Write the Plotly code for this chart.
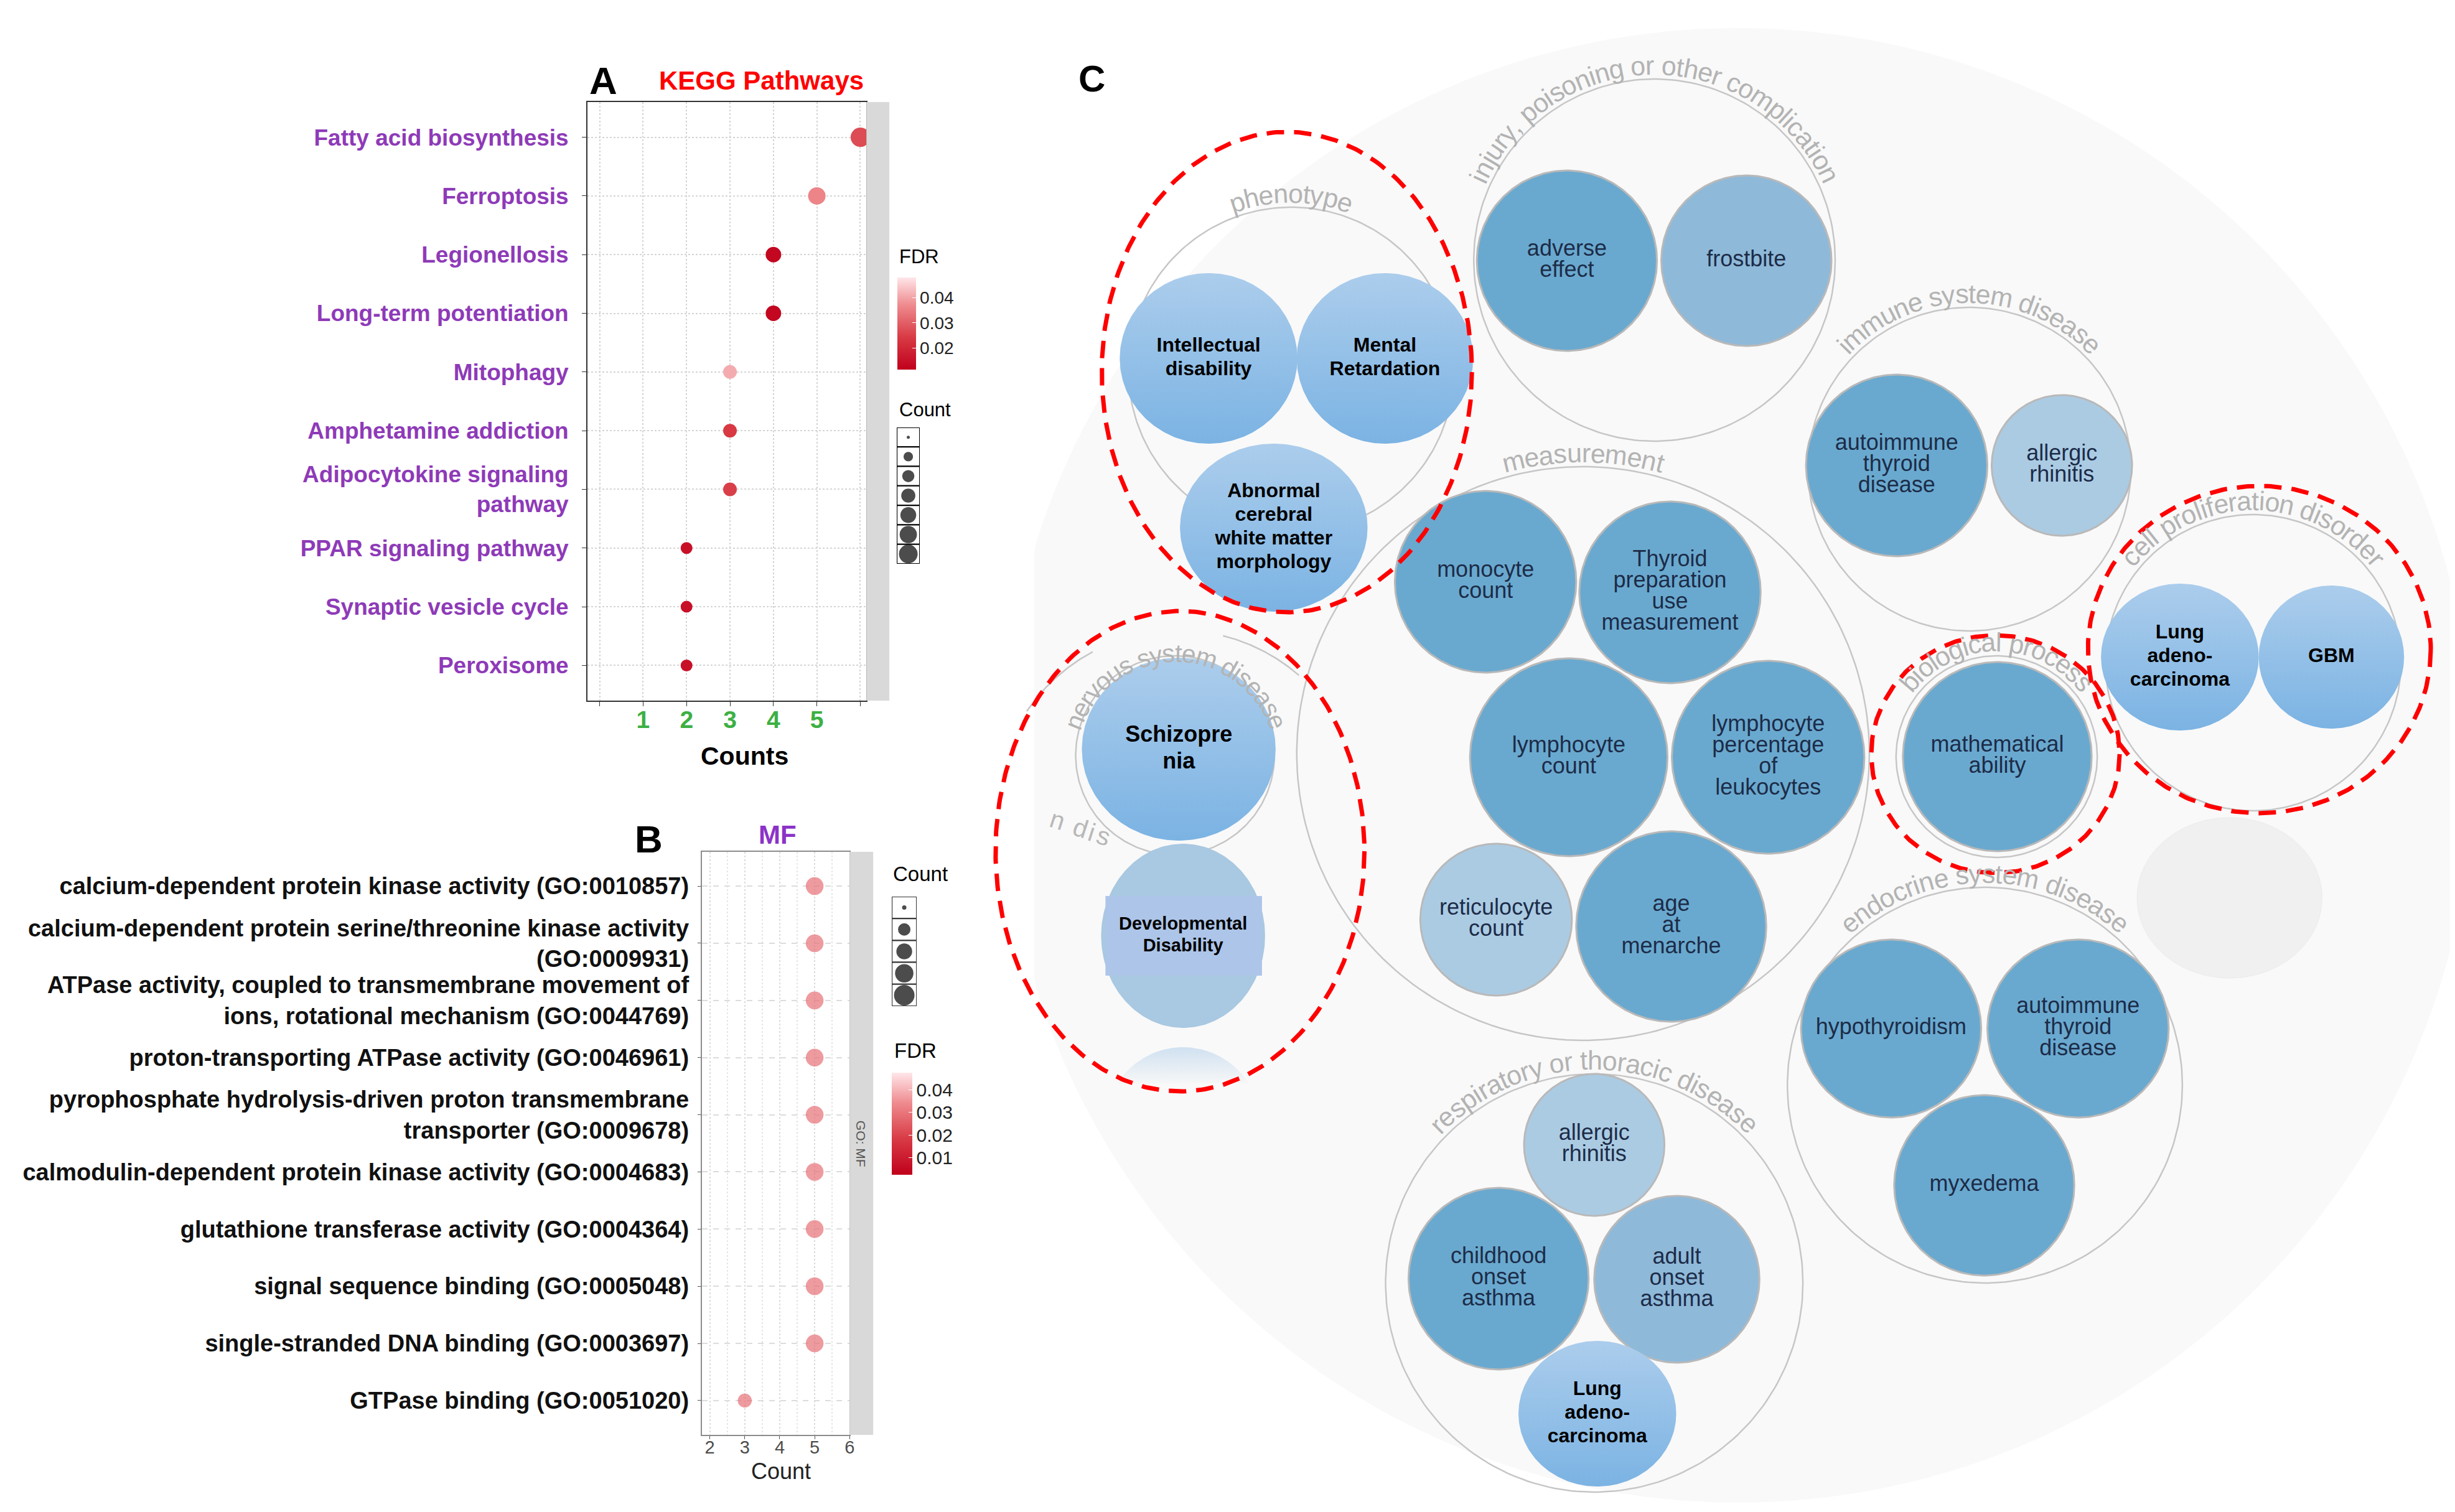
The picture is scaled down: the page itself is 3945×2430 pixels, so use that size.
import numpy as np
import plotly.graph_objects as go

W, H = 3945, 2430

# ---------------- Panel A data (KEGG) ----------------
kegg_terms = ["Fatty acid biosynthesis", "Ferroptosis", "Legionellosis",
              "Long-term potentiation", "Mitophagy", "Amphetamine addiction",
              "Adipocytokine signaling<br>pathway", "PPAR signaling pathway",
              "Synaptic vesicle cycle", "Peroxisome"]
kegg_count = [6, 5, 4, 4, 3, 3, 3, 2, 2, 2]
kegg_fdr = [0.027, 0.036, 0.013, 0.013, 0.041, 0.024, 0.025, 0.015, 0.015, 0.015]
a_xticks = [0, 1, 2, 3, 4, 5, 6]
a_xlabels = ["", "1", "2", "3", "4", "5", ""]
a_fdr_ticks = [0.02, 0.03, 0.04]
a_count_keys = [1, 2, 3, 4, 5, 6, 7]

# ---------------- Panel B data (GO MF) ----------------
mf_terms = ["calcium-dependent protein kinase activity (GO:0010857)",
            "calcium-dependent protein serine/threonine kinase activity<br>(GO:0009931)",
            "ATPase activity, coupled to transmembrane movement of<br>ions, rotational mechanism (GO:0044769)",
            "proton-transporting ATPase activity (GO:0046961)",
            "pyrophosphate hydrolysis-driven proton transmembrane<br>transporter (GO:0009678)",
            "calmodulin-dependent protein kinase activity (GO:0004683)",
            "glutathione transferase activity (GO:0004364)",
            "signal sequence binding (GO:0005048)",
            "single-stranded DNA binding (GO:0003697)",
            "GTPase binding (GO:0051020)"]
mf_count = [5, 5, 5, 5, 5, 5, 5, 5, 5, 3]
mf_fdr = [0.029] * 10
b_xticks = [2, 3, 4, 5, 6]
b_fdr_ticks = [0.01, 0.02, 0.03, 0.04]
b_count_keys = [2, 3, 4, 5, 6]

# ---------------- Panel C data (disease / trait bubbles) ----------------
c_groups = ["phenotype", "injury, poisoning or other complication", "immune system disease",
            "measurement", "cell proliferation disorder", "biological process",
            "endocrine system disease", "respiratory or thoracic disease", "nervous system disease"]
c_terms = ["Intellectual\ndisability", "Mental\nRetardation", "Abnormal\ncerebral\nwhite matter\nmorphology",
           "adverse\neffect", "frostbite",
           "autoimmune\nthyroid\ndisease", "allergic\nrhinitis",
           "monocyte\ncount", "Thyroid\npreparation\nuse\nmeasurement", "lymphocyte\ncount",
           "lymphocyte\npercentage\nof\nleukocytes", "reticulocyte\ncount", "age\nat\nmenarche",
           "Lung\nadeno-\ncarcinoma", "GBM",
           "mathematical\nability",
           "hypothyroidism", "autoimmune\nthyroid\ndisease", "myxedema",
           "allergic\nrhinitis", "childhood\nonset\nasthma", "adult\nonset\nasthma", "Lung\nadeno-\ncarcinoma",
           "Schizopre\nnia", "Developmental\nDisability"]
c_term_group = [0, 0, 0, 1, 1, 2, 2, 3, 3, 3, 3, 3, 3, 4, 4, 5, 6, 6, 6, 7, 7, 7, 7, 8, 8]
c_term_shade = ["hl", "hl", "hl", "dark", "mid", "dark", "light", "dark", "dark", "dark",
                "dark", "light", "dark", "hl", "hl", "dark", "dark", "dark", "dark",
                "light", "dark", "mid", "hl", "hl", "hl2"]

# ---------------- layout geometry for panel C (pixel space) ----------------
group_geom = [(2071, 587, 262), (2656, 410, 291), (3163, 746, 260), (2541, 1203, 461),
              (3620, 1057, 238), (3207, 1208, 162), (3188, 1736, 318), (2559, 2054, 336),
              (1884, 1206, 160)]
term_geom = [(1938, 568, 143, 137), (2222, 568, 142, 137), (2043, 840, 151, 135),
             (2515, 411, 145, 145), (2804, 411, 137, 137),
             (3046, 740, 146, 146), (3312, 740, 113, 113),
             (2384, 927, 146, 146), (2681, 944, 146, 146), (2518, 1209, 159, 159),
             (2839, 1209, 155, 155), (2401, 1470, 122, 122), (2683, 1481, 153, 153),
             (3502, 1048, 127, 118), (3746, 1048, 117, 115),
             (3208, 1208, 152, 152),
             (3037, 1645, 145, 143), (3338, 1645, 146, 143), (3187, 1897, 145, 145),
             (2559, 1832, 113, 114), (2405, 2047, 145, 146), (2692, 2048, 133, 134),
             (2564, 2264, 127, 117),
             (1890, 1196, 156, 147), (1897, 1496, 132, 148)]
highlight_geom = [(2064, 590, 298, 386), (1892, 1360, 297, 386), (3205, 1204, 200, 191),
                  (3630, 1036, 276, 263)]

shade_fill = {"dark": "#6aa9cf", "mid": "#8fb9d9", "light": "#abcbe3"}

fig = go.Figure()


def px(x):
    return x / W


def py(y):
    return 1 - y / H


def ellipse(cx, cy, rx, ry, n=240):
    t = np.linspace(0, 2 * np.pi, n)
    return cx + rx * np.cos(t), cy + ry * np.sin(t)


def arc(cx, cy, r, a0, a1, n=60):
    t = np.radians(np.linspace(a0, a1, n))
    return cx + r * np.cos(t), cy - r * np.sin(t)


# ---------------- Panel A ----------------
fig.add_trace(go.Scatter(
    x=kegg_count, y=kegg_terms, mode="markers", xaxis="x", yaxis="y",
    marker=dict(size=[13 + 3 * c for c in kegg_count], color=kegg_fdr,
                coloraxis="coloraxis", line=dict(width=0), opacity=1),
    hoverinfo="skip"))

# ---------------- Panel B ----------------
fig.add_trace(go.Scatter(
    x=mf_count, y=mf_terms, mode="markers", xaxis="x2", yaxis="y2",
    marker=dict(size=[13.5 + 3 * c for c in mf_count], color=mf_fdr,
                coloraxis="coloraxis2", line=dict(width=0)),
    hoverinfo="skip"))

# ---------------- size legends ----------------
fig.add_trace(go.Scatter(
    x=[0.5] * len(a_count_keys), y=a_count_keys, mode="markers", xaxis="x4", yaxis="y4",
    marker=dict(size=[5 + 25 * np.sqrt((k - 1) / 6) for k in a_count_keys], color="black",
                line=dict(width=0)), hoverinfo="skip"))
fig.add_trace(go.Scatter(
    x=[1.3] * len(a_count_keys), y=a_count_keys, mode="text", xaxis="x4", yaxis="y4",
    text=[str(k) for k in a_count_keys], textposition="middle right", cliponaxis=False,
    textfont=dict(size=28, color="black", family="Liberation Sans"), hoverinfo="skip"))
fig.add_trace(go.Scatter(
    x=[0.5] * len(b_count_keys), y=b_count_keys, mode="markers", xaxis="x5", yaxis="y5",
    marker=dict(size=[7 + 26 * np.sqrt((k - 2) / 4) for k in b_count_keys], color="black",
                line=dict(width=0)), hoverinfo="skip"))
fig.add_trace(go.Scatter(
    x=[1.3] * len(b_count_keys), y=b_count_keys, mode="text", xaxis="x5", yaxis="y5",
    text=[str(k) for k in b_count_keys], textposition="middle right", cliponaxis=False,
    textfont=dict(size=30, color="black", family="Liberation Sans"), hoverinfo="skip"))

shapes = []
for k in a_count_keys:
    shapes.append(dict(type="rect", xref="x4", yref="y4", x0=0, x1=1, y0=k - 0.5, y1=k + 0.5,
                       line=dict(color="black", width=2), fillcolor="white", layer="below"))
for k in b_count_keys:
    shapes.append(dict(type="rect", xref="x5", yref="y5", x0=0, x1=1, y0=k - 0.5, y1=k + 0.5,
                       line=dict(color="#333", width=2), fillcolor="white", layer="below"))
# facet strips
shapes.append(dict(type="rect", xref="x3", yref="y3", x0=1387, x1=1424, y0=156, y1=1118,
                   line=dict(width=0), fillcolor="#d9d9d9", layer="below"))
shapes.append(dict(type="rect", xref="x3", yref="y3", x0=1360, x1=1398, y0=1361, y1=2298,
                   line=dict(width=0), fillcolor="#d9d9d9", layer="below"))

# ---------------- Panel C ----------------
C = dict(xaxis="x3", yaxis="y3", hoverinfo="skip")

bx, by = ellipse(2790, 1222, 1185, 1185, 400)
fig.add_trace(go.Scatter(x=np.clip(bx, 1657, W), y=np.clip(by, 0, H), mode="lines", fill="toself",
                         fillcolor="#f9f9f9", line=dict(width=0, color="rgba(0,0,0,0)"), **C))

# empty light circle
ex, ey = ellipse(3582, 1435, 149, 129)
fig.add_trace(go.Scatter(x=ex, y=ey, mode="lines", fill="toself", fillcolor="#f0f0f0",
                         line=dict(width=1, color="#ebebeb"), **C))

# group outlines
for gi, (cx, cy, r) in enumerate(group_geom):
    gx, gy = ellipse(cx, cy, r, r)
    fig.add_trace(go.Scatter(x=gx, y=gy, mode="lines", line=dict(color="#c6c6c6", width=2.5), **C))
# partial outer arcs of the nervous-system group
for a0, a1 in [(118, 146), (49, 76)]:
    axs, ays = arc(1890, 1300, 295, a0, a1)
    fig.add_trace(go.Scatter(x=axs, y=ays, mode="lines", line=dict(color="#c6c6c6", width=2.5), **C))

# faded cap below developmental disability
fx, fy = ellipse(1897, 1800, 125, 125, 300)
mask = fy <= 1735
fig.add_trace(go.Scatter(x=fx[mask], y=fy[mask], mode="lines", fill="toself",
                         fillgradient=dict(type="vertical", colorscale=[[0, "#f7f7f7"], [1, "#d0e1f1"]]),
                         line=dict(width=0, color="rgba(0,0,0,0)"), **C))

# term bubbles
for ti, (cx, cy, rx, ry) in enumerate(term_geom):
    sh = c_term_shade[ti]
    tx, ty = ellipse(cx, cy, rx, ry)
    if sh in shade_fill:
        fig.add_trace(go.Scatter(x=tx, y=ty, mode="lines", fill="toself", fillcolor=shade_fill[sh],
                                 line=dict(color="#b9b9b9", width=3), **C))
    elif sh == "hl":
        fig.add_trace(go.Scatter(x=tx, y=ty, mode="lines", fill="toself",
                                 fillgradient=dict(type="vertical",
                                                   colorscale=[[0, "#7bb3e3"], [1, "#accdec"]]),
                                 line=dict(width=0, color="rgba(0,0,0,0)"), **C))
    else:
        fig.add_trace(go.Scatter(x=tx, y=ty, mode="lines", fill="toself", fillcolor="#a9c8e1",
                                 line=dict(width=0, color="rgba(0,0,0,0)"), **C))
        rxs = [cx - 125, cx + 127, cx + 127, cx - 125, cx - 125]
        rys = [cy - 64, cy - 64, cy + 64, cy + 64, cy - 64]
        fig.add_trace(go.Scatter(x=rxs, y=rys, mode="lines", fill="toself", fillcolor="#adc5e8",
                                 line=dict(width=0, color="rgba(0,0,0,0)"), **C))

# term labels, one point per text line
for style in ["regular", "hl", "hl2", "schizo"]:
    xs, ys, ts = [], [], []
    for ti, (cx, cy, rx, ry) in enumerate(term_geom):
        sh = c_term_shade[ti]
        is_schizo = c_terms[ti].startswith("Schizo")
        st = "schizo" if is_schizo else ("regular" if sh in shade_fill else sh)
        if st != style:
            continue
        lh = {"regular": 34, "hl": 38, "hl2": 35, "schizo": 43}[st]
        lines = c_terms[ti].split("\n")
        n = len(lines)
        for li, line in enumerate(lines):
            xs.append(cx)
            ys.append(cy + (li - (n - 1) / 2) * lh)
            ts.append(line)
    if not xs:
        continue
    if style == "regular":
        f = dict(size=36, color="#1c2c48", family="Liberation Sans")
    elif style == "hl":
        f = dict(size=32, color="black", family="Liberation Sans", weight="bold")
    elif style == "hl2":
        f = dict(size=29, color="black", family="Liberation Sans", weight="bold")
    else:
        f = dict(size=36, color="black", family="Liberation Sans", weight="bold")
    fig.add_trace(go.Scatter(x=xs, y=ys, text=ts, mode="text", textposition="middle center",
                             textfont=f, cliponaxis=False, **C))

# red dashed highlight ellipses
for (cx, cy, rx, ry) in highlight_geom:
    hx, hy = ellipse(cx, cy, rx, ry, 360)
    fig.add_trace(go.Scatter(x=hx, y=hy, mode="lines",
                             line=dict(color="#ff0000", width=7, dash="28px,16px"), **C))

# ---------------- annotations ----------------
ann = []
CW = {'a': .556, 'b': .556, 'c': .5, 'd': .556, 'e': .556, 'f': .278, 'g': .556, 'h': .556,
      'i': .222, 'j': .222, 'k': .5, 'l': .222, 'm': .833, 'n': .556, 'o': .556, 'p': .556,
      'q': .556, 'r': .333, 's': .5, 't': .278, 'u': .556, 'v': .5, 'w': .722, 'x': .5,
      'y': .5, 'z': .5, ' ': .278, ',': .278}


def arc_label(text, cx, cy, R, size=43, color="#b3b3b3", center_deg=90):
    widths = [CW.get(ch, .556) * size for ch in text]
    L = sum(widths)
    th0 = np.radians(center_deg) + L / (2 * R)
    s = 0.0
    for ch, w in zip(text, widths):
        th = th0 - (s + w / 2) / R
        s += w
        if ch == " ":
            continue
        ann.append(dict(x=cx + R * np.cos(th), y=cy - R * np.sin(th), xref="x3", yref="y3",
                        text=ch, showarrow=False, textangle=float(np.degrees(np.pi / 2 - th)),
                        xanchor="center", yanchor="middle",
                        font=dict(size=size, color=color, family="Liberation Sans")))


for gi, name in enumerate(c_groups):
    cx, cy, r = group_geom[gi]
    if gi == 8:
        arc_label(name, 1885, 1218, 176, size=41)
    else:
        arc_label(name, cx, cy, r + 22)

# fragment of a hidden label
for i, ch in enumerate("n dis"):
    if ch == " ":
        continue
    ann.append(dict(x=1695 + i * 18.5, y=1310 + i * 6.5, xref="x3", yref="y3", text=ch,
                    showarrow=False, textangle=18, font=dict(size=41, color="#b8b8b8",
                                                            family="Liberation Sans")))


def label(x, y, text, size, color="black", bold=True, angle=0, xanchor="center"):
    ann.append(dict(x=px(x), y=py(y), xref="paper", yref="paper", text=text, showarrow=False,
                    textangle=angle, xanchor=xanchor, yanchor="middle",
                    font=dict(size=size, color=color, family="Liberation Sans",
                              weight="bold" if bold else "normal")))


label(963, 121, "A", 62)
label(1218, 121, "KEGG Pathways", 42, color="#ff0000")
label(1191, 1207, "Counts", 41)
label(1037, 1340, "B", 62)
label(1244, 1333, "MF", 42, color="#8c32c8")
label(1250, 2356, "Count", 36, bold=False, color="#222")
label(1379, 1830, "GO: MF", 21, color="#555", bold=False, angle=90)
label(1750, 118, "C", 60)
label(1438, 405, "FDR", 31, bold=False, xanchor="left")
label(1438, 650, "Count", 31, bold=False, xanchor="left")
label(1428, 1396, "Count", 33, bold=False, xanchor="left")
label(1430, 1680, "FDR", 33, bold=False, xanchor="left")

red_scale = [[0, "#c0001c"], [0.35, "#d83a44"], [0.7, "#ee8a8e"], [1, "#ffe6e9"]]

fig.update_layout(
    width=W, height=H, autosize=False, margin=dict(l=0, r=0, t=0, b=0, pad=0),
    paper_bgcolor="white", plot_bgcolor="rgba(0,0,0,0)", showlegend=False,
    shapes=shapes, annotations=ann,
    xaxis=dict(domain=[px(938), px(1387)], range=[-0.28, 6.14], tickmode="array",
               tickvals=a_xticks, ticktext=a_xlabels, anchor="y",
               tickfont=dict(size=39, color="#3cb043", family="Liberation Sans", weight="bold"),
               showgrid=True, gridcolor="#d5d5d5", griddash="dot", gridwidth=2, zeroline=False,
               showline=True, linecolor="#333", linewidth=2, mirror=True,
               ticks="outside", ticklen=7, tickcolor="#333", ticklabelstandoff=-12),
    yaxis=dict(domain=[py(1118), py(156)], type="category", categoryorder="array",
               categoryarray=kegg_terms, range=[9.6, -0.6], anchor="x",
               tickfont=dict(size=37, color="#8e3ab8", family="Liberation Sans", weight="bold"),
               showgrid=True, gridcolor="#d5d5d5", griddash="dot", gridwidth=2, zeroline=False,
               showline=True, linecolor="#333", linewidth=2, mirror=True,
               ticks="outside", ticklen=7, tickcolor="#333", ticklabelstandoff=14),
    xaxis2=dict(domain=[px(1122), px(1360)], range=[1.77, 6.0], tickmode="array",
                tickvals=b_xticks, anchor="y2",
                tickfont=dict(size=29, color="#4d4d4d", family="Liberation Sans"),
                showgrid=True, gridcolor="#dcdcdc", griddash="dot", gridwidth=2, zeroline=False,
                minor=dict(tickmode="array", tickvals=[2.5, 3.5, 4.5, 5.5], showgrid=True,
                           gridcolor="#e6e6e6", griddash="dot", gridwidth=2),
                showline=True, linecolor="#8c8c8c", linewidth=2, mirror=True,
                ticks="outside", ticklen=5, tickcolor="#555", ticklabelstandoff=-12),
    yaxis2=dict(domain=[py(2298), py(1361)], type="category", categoryorder="array",
                categoryarray=mf_terms, range=[9.6, -0.6], anchor="x2",
                tickfont=dict(size=38, color="#111", family="Liberation Sans", weight="bold"),
                showgrid=True, gridcolor="#dcdcdc", griddash="dash", gridwidth=2, zeroline=False,
                showline=True, linecolor="#8c8c8c", linewidth=2, mirror=True,
                ticks="outside", ticklen=5, tickcolor="#555", ticklabelstandoff=6),
    xaxis3=dict(domain=[0, 1], range=[0, W], visible=False, anchor="y3", fixedrange=True),
    yaxis3=dict(domain=[0, 1], range=[H, 0], visible=False, anchor="x3", fixedrange=True),
    xaxis4=dict(domain=[px(1436), px(1473)], range=[0, 1], visible=False, anchor="y4"),
    yaxis4=dict(domain=[py(898), py(679)], range=[7.5, 0.5], visible=False, anchor="x4"),
    xaxis5=dict(domain=[px(1428), px(1468)], range=[0, 1], visible=False, anchor="y5"),
    yaxis5=dict(domain=[py(1609), py(1433)], range=[6.5, 1.5], visible=False, anchor="x5"),
    coloraxis=dict(colorscale=red_scale, cmin=0.0114, cmax=0.048,
                   colorbar=dict(x=px(1437), xanchor="left", y=py(512), yanchor="middle",
                                 len=148, lenmode="pixels", thickness=30, thicknessmode="pixels",
                                 outlinewidth=0, xpad=0, ypad=0, tickmode="array",
                                 tickvals=a_fdr_ticks,
                                 ticks="inside", tickcolor="white", ticklen=6,
                                 tickfont=dict(size=28, color="#222", family="Liberation Sans"))),
    coloraxis2=dict(colorscale=red_scale, cmin=0.0026, cmax=0.0474,
                    colorbar=dict(x=px(1428), xanchor="left", y=py(1798), yanchor="middle",
                                  len=164, lenmode="pixels", thickness=33, thicknessmode="pixels",
                                  outlinewidth=0, xpad=0, ypad=0, tickmode="array",
                                  tickvals=b_fdr_ticks, ticks="inside", tickcolor="white", ticklen=6,
                                  tickfont=dict(size=30, color="#222", family="Liberation Sans"))),
)

fig.write_html("out.html")
